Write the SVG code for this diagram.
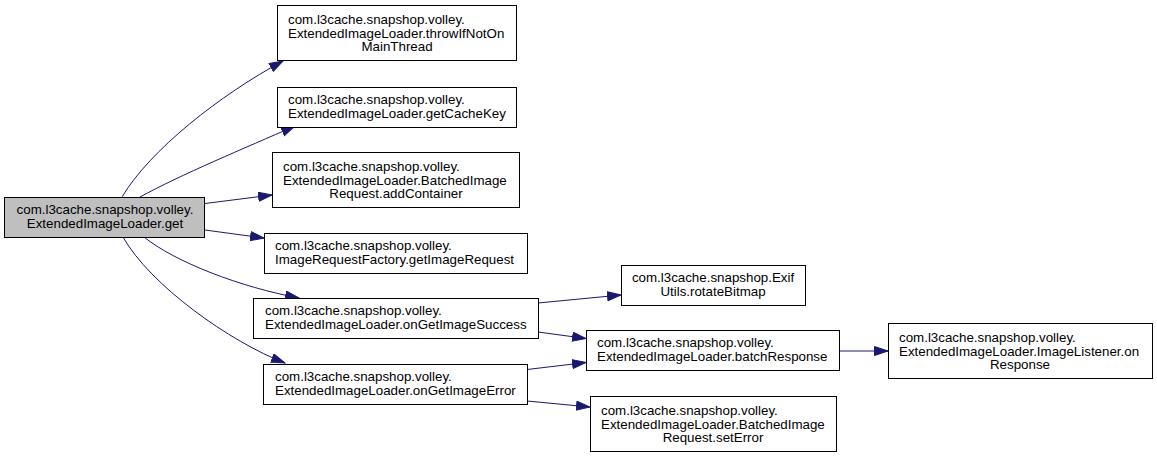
<svg xmlns="http://www.w3.org/2000/svg" width="1157" height="457" viewBox="0 0 1157 457">
<style>
.box{fill:#ffffff;stroke:#000000;stroke-width:1}
.root{fill:#bfbfbf;stroke:#000000;stroke-width:1}
text{font-family:"Liberation Sans",Arial,Helvetica,sans-serif;font-size:13.33px;fill:#000000}
.m{text-anchor:middle}
.e{fill:none;stroke:#191970;stroke-width:1;marker-end:url(#ah)}
</style>
<defs>
<marker id="ah" markerUnits="userSpaceOnUse" markerWidth="15" markerHeight="11" refX="14" refY="5" orient="auto" viewBox="0 0 15 11">
<path d="M0.5,0.5 L14,5 L0.5,9.5 z" fill="#191970" stroke="#191970" stroke-width="1"/>
</marker>
</defs>
<rect width="1157" height="457" fill="#ffffff"/>
<g id="edges">
<path class="e" d="M122,197 C150,150 220,95 283,61"/>
<path class="e" d="M140,197 C180,175 245,148 295,126"/>
<path class="e" d="M205,203.5 L272,195"/>
<path class="e" d="M205,230 L264,238"/>
<path class="e" d="M144,237 C175,262 240,287 299,298"/>
<path class="e" d="M123,237 C150,285 230,342 285,363"/>
<path class="e" d="M538,303 L621,295"/>
<path class="e" d="M538,332 L586,338.5"/>
<path class="e" d="M527,369.5 L586,362.5"/>
<path class="e" d="M527,401 L590,407"/>
<path class="e" d="M839,351 L888,351"/>
</g>
<g id="node_get">
<rect class="root" x="4.5" y="197.5" width="200" height="40"/>
<text class="m" x="105" y="214">com.l3cache.snapshop.volley.</text>
<text class="m" x="105" y="228">ExtendedImageLoader.get</text>
</g>
<g id="node_throwIfNotOnMainThread">
<rect class="box" x="277.5" y="5.5" width="239" height="55"/>
<text x="288" y="24">com.l3cache.snapshop.volley.</text>
<text x="288" y="37.5">ExtendedImageLoader.throwIfNotOn</text>
<text class="m" x="397" y="51">MainThread</text>
</g>
<g id="node_getCacheKey">
<rect class="box" x="277.5" y="87.5" width="239" height="40"/>
<text x="288" y="104">com.l3cache.snapshop.volley.</text>
<text x="288" y="118">ExtendedImageLoader.getCacheKey</text>
</g>
<g id="node_addContainer">
<rect class="box" x="272.5" y="152.5" width="247" height="55"/>
<text x="283" y="171">com.l3cache.snapshop.volley.</text>
<text x="283" y="184.5">ExtendedImageLoader.BatchedImage</text>
<text class="m" x="396" y="198">Request.addContainer</text>
</g>
<g id="node_getImageRequest">
<rect class="box" x="264.5" y="233.5" width="263" height="40"/>
<text x="275" y="250">com.l3cache.snapshop.volley.</text>
<text x="275" y="264">ImageRequestFactory.getImageRequest</text>
</g>
<g id="node_onGetImageSuccess">
<rect class="box" x="253.5" y="298.5" width="285" height="40"/>
<text x="265" y="315">com.l3cache.snapshop.volley.</text>
<text x="265" y="329">ExtendedImageLoader.onGetImageSuccess</text>
</g>
<g id="node_onGetImageError">
<rect class="box" x="263.5" y="364.5" width="264" height="40"/>
<text x="275" y="381">com.l3cache.snapshop.volley.</text>
<text x="275" y="395">ExtendedImageLoader.onGetImageError</text>
</g>
<g id="node_rotateBitmap">
<rect class="box" x="621.5" y="265.5" width="184" height="40"/>
<text class="m" x="713" y="282">com.l3cache.snapshop.Exif</text>
<text class="m" x="713" y="296">Utils.rotateBitmap</text>
</g>
<g id="node_batchResponse">
<rect class="box" x="586.5" y="330.5" width="253" height="40"/>
<text x="597" y="347">com.l3cache.snapshop.volley.</text>
<text x="597" y="361">ExtendedImageLoader.batchResponse</text>
</g>
<g id="node_onResponse">
<rect class="box" x="888.5" y="323.5" width="264" height="55"/>
<text x="899" y="342">com.l3cache.snapshop.volley.</text>
<text x="899" y="355.5">ExtendedImageLoader.ImageListener.on</text>
<text class="m" x="1020" y="369">Response</text>
</g>
<g id="node_setError">
<rect class="box" x="590.5" y="396.5" width="246" height="55"/>
<text x="601" y="415">com.l3cache.snapshop.volley.</text>
<text x="601" y="428.5">ExtendedImageLoader.BatchedImage</text>
<text class="m" x="713" y="442">Request.setError</text>
</g>
</svg>
